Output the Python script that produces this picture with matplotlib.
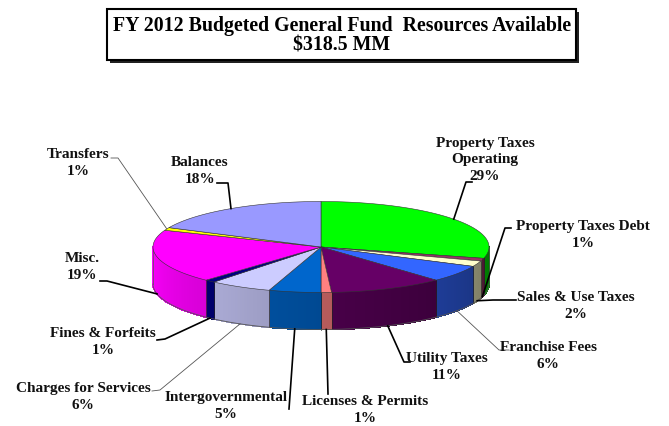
import numpy as np
import matplotlib.pyplot as plt
from matplotlib.patches import Polygon, Rectangle
from matplotlib.collections import PolyCollection
from matplotlib.colors import to_rgb

# General fund resources, percent of total
labels = ['Property Taxes\nOperating', 'Property Taxes Debt', 'Sales & Use Taxes',
          'Franchise Fees', 'Utility Taxes', 'Licenses & Permits', 'Intergovernmental',
          'Charges for Services', 'Fines & Forfeits', 'Misc.', 'Transfers', 'Balances']
values = [29, 1, 2, 6, 11, 1, 5, 6, 1, 19, 1, 18]
colors = ['#00ff00', '#993366', '#ffffcc', '#3366ff', '#660066', '#ff8080',
          '#0066cc', '#ccccff', '#000080', '#ff00ff', '#ffff00', '#9999ff']

# label placement: text centre, tail near the text, elbow of leader (pixels)
text_pos = [(485, 160), (583, 235), (576, 306), (548, 356), (447, 367), (365, 410),
            (226, 406), (83, 397), (103, 342), (82, 267), (78, 163), (200, 171)]
leader_pts = [[(472, 182), (466, 182)], [(511, 228), (505, 228)], [(516, 300), (493, 300)],
              [(509, 350), (499, 350)], [(410, 362), (404, 362)], [(328, 394)],
              [(289, 409)], [(152, 391), (160, 390)], [(157, 340), (165, 339)],
              [(100, 281), (107, 281)], [(111, 158), (118, 158)], [(217, 183), (228, 183)]]
thin_leader = [False, False, False, True, False, False, False, True, False, False, True, False]

W, H = 669, 426
cx, cy, rx, ry, depth = 321, 247, 168, 45.5, 37

fig = plt.figure(figsize=(W / 100, H / 100), dpi=100)
ax = fig.add_axes([0, 0, 1, 1])
ax.set_xlim(0, W)
ax.set_ylim(H, 0)
ax.axis('off')


def rim(theta, dz=0.0):
    t = np.radians(theta)
    return cx + rx * np.sin(t), cy - ry * np.cos(t) + dz


def shade(theta):
    s = (theta - 90) / 180.0
    return 0.45 + 0.53 * s


fracs = np.array(values, dtype=float) / sum(values)
bounds = np.concatenate([[0], np.cumsum(fracs) * 360])

# side walls of the front half
quads, quad_cols = [], []
for i, c in enumerate(colors):
    a0, a1 = max(bounds[i], 90), min(bounds[i + 1], 270)
    if a1 <= a0:
        continue
    steps = np.linspace(a0, a1, max(2, int((a1 - a0) / 0.7) + 2))
    base = np.array(to_rgb(c))
    for t0, t1 in zip(steps[:-1], steps[1:]):
        x0, y0 = rim(t0)
        x1, y1 = rim(t1)
        quads.append([(x0, y0), (x1, y1), (x1, y1 + depth), (x0, y0 + depth)])
        quad_cols.append(np.clip(base * shade((t0 + t1) / 2), 0, 1))
ax.add_collection(PolyCollection(quads, facecolors=quad_cols, edgecolors=quad_cols,
                                 linewidths=0.6, antialiaseds=False, zorder=2))

# wall seams and bottom outline
for b in bounds:
    if 90 < b < 270:
        x, y = rim(b)
        ax.plot([x, x], [y, y + depth], color='#222222', lw=0.5, zorder=3)
tt = np.linspace(90, 270, 200)
bx, by = rim(tt, depth)
ax.plot(bx, by, color='#555555', lw=0.6, zorder=3)
for t in (90, 270):
    x, y = rim(t)
    ax.plot([x, x], [y, y + depth], color='#555555', lw=0.5, zorder=3)

# top faces
for i, c in enumerate(colors):
    tt = np.linspace(bounds[i], bounds[i + 1], max(3, int(values[i] * 4)))
    xs, ys = rim(tt)
    pts = [(cx, cy)] + list(zip(xs, ys))
    ax.add_patch(Polygon(pts, closed=True, facecolor=c, edgecolor='#333333',
                         lw=0.4, zorder=4))

# labels and leader lines
font = dict(family='Liberation Serif', weight='bold', size=11, color='#111111')
for i, lab in enumerate(labels):
    mid = (bounds[i] + bounds[i + 1]) / 2
    front = 90 < mid < 270
    ax_, ay_ = rim(mid, depth if front else 0)
    pts = leader_pts[i] + [(ax_, ay_)]
    xs, ys = zip(*pts)
    if thin_leader[i]:
        ax.plot(xs, ys, color='#555555', lw=0.6, zorder=5)
    else:
        ax.plot(xs, ys, color='black', lw=1.2, zorder=5)
    ax.text(text_pos[i][0], text_pos[i][1], f'{lab}\n{values[i]}%', ha='center',
            va='center', linespacing=1.4, zorder=6, **font)

# title box with drop shadow
ax.add_patch(Rectangle((110, 12), 469, 51, facecolor='#222222', edgecolor='none', zorder=6))
ax.add_patch(Rectangle((107, 9), 469, 51, facecolor='white', edgecolor='black',
                       lw=1.5, zorder=7))
ax.text(342, 26, 'FY 2012 Budgeted General Fund  Resources Available', ha='center',
        va='center', family='Liberation Serif', weight='bold', size=14.3, zorder=8)
ax.text(342, 45, '$318.5 MM', ha='center', va='center', family='Liberation Serif',
        weight='bold', size=14.3, zorder=8)

fig.savefig('out.png', dpi=100)
